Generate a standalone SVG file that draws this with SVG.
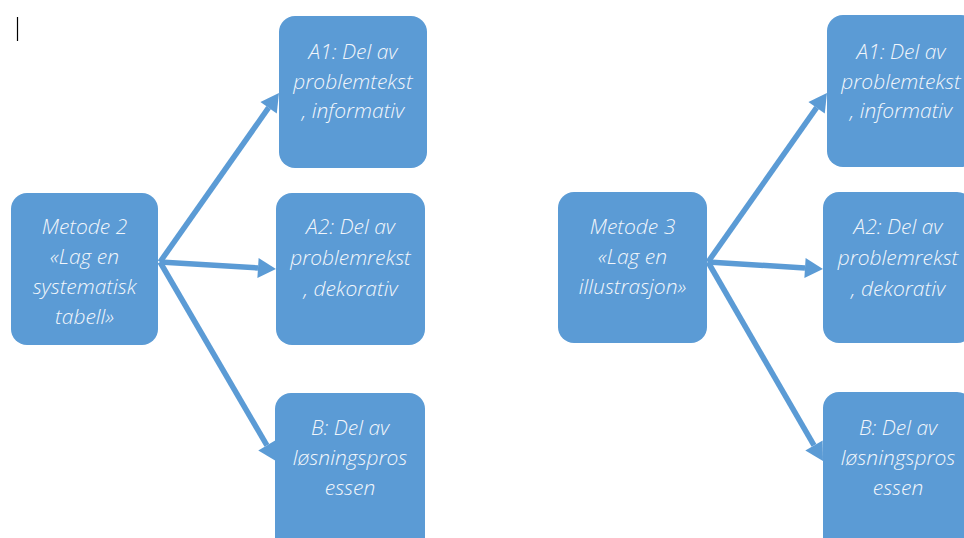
<svg xmlns="http://www.w3.org/2000/svg" width="964" height="538" viewBox="0 0 964 538">
<style>
.box{fill:#5B9BD5;}
.lbl{font-family:"Open Sans",Lato,"Liberation Sans",sans-serif;font-style:italic;font-weight:300;font-size:21px;fill:#F2F6FB;text-anchor:middle;}
.con{stroke:#5B9BD5;stroke-width:5.5;fill:none;marker-end:url(#ah);}
</style>
<defs>
<marker id="ah" markerUnits="userSpaceOnUse" markerWidth="20" markerHeight="20" refX="0" refY="10" orient="auto" overflow="visible">
<path d="M0,0 L18,10 L0,20 z" fill="#5B9BD5"/>
</marker>
</defs>
<rect width="964" height="538" fill="#FFFFFF"/>
<line x1="17.5" y1="17" x2="17.5" y2="41" stroke="#000" stroke-width="1.2"/>
<g id="connectors">
<line class="con" x1="160" y1="262" x2="268.6" y2="107.7"/>
<line class="con" x1="160" y1="262" x2="258" y2="267.9"/>
<line class="con" x1="160" y1="262" x2="266.9" y2="445.4"/>
<line class="con" x1="708" y1="262" x2="816.6" y2="107.7"/>
<line class="con" x1="708" y1="262" x2="805" y2="267.9"/>
<line class="con" x1="708" y1="262" x2="814" y2="445.4"/>
</g>
<g id="metode2">
<rect class="box" x="11" y="193" width="147" height="152" rx="16"/>
<text class="lbl"><tspan x="84.5" y="234">Metode 2</tspan><tspan x="84.5" y="264">«Lag en</tspan><tspan x="84.5" y="294">systematisk</tspan><tspan x="84.5" y="324">tabell»</tspan></text>
</g>
<g id="a1-left">
<rect class="box" x="279" y="16" width="148" height="152" rx="16"/>
<text class="lbl"><tspan x="353" y="59">A1: Del av</tspan><tspan x="353" y="89">problemtekst</tspan><tspan x="353" y="118">, informativ</tspan></text>
</g>
<g id="a2-left">
<rect class="box" x="276" y="193" width="149" height="152" rx="16"/>
<text class="lbl"><tspan x="350.5" y="234">A2: Del av</tspan><tspan x="350.5" y="265">problemrekst</tspan><tspan x="350.5" y="296">, dekorativ</tspan></text>
</g>
<g id="b-left">
<rect class="box" x="275" y="393" width="150" height="165" rx="16"/>
<text class="lbl"><tspan x="350" y="435">B: Del av</tspan><tspan x="350" y="465">løsningspros</tspan><tspan x="350" y="495">essen</tspan></text>
</g>
<g id="metode3">
<rect class="box" x="558" y="192" width="149" height="151" rx="16"/>
<text class="lbl"><tspan x="632.5" y="234">Metode 3</tspan><tspan x="632.5" y="264">«Lag en</tspan><tspan x="632.5" y="294">illustrasjon»</tspan></text>
</g>
<g id="a1-right">
<rect class="box" x="827" y="15" width="150" height="152" rx="16"/>
<text class="lbl"><tspan x="901" y="59">A1: Del av</tspan><tspan x="901" y="89">problemtekst</tspan><tspan x="901" y="118">, informativ</tspan></text>
</g>
<g id="a2-right">
<rect class="box" x="823" y="192" width="150" height="151" rx="16"/>
<text class="lbl"><tspan x="898" y="234">A2: Del av</tspan><tspan x="898" y="265">problemrekst</tspan><tspan x="898" y="296">, dekorativ</tspan></text>
</g>
<g id="b-right">
<rect class="box" x="823" y="392" width="150" height="165" rx="16"/>
<text class="lbl"><tspan x="898" y="435">B: Del av</tspan><tspan x="898" y="465">løsningspros</tspan><tspan x="898" y="495">essen</tspan></text>
</g>
</svg>
